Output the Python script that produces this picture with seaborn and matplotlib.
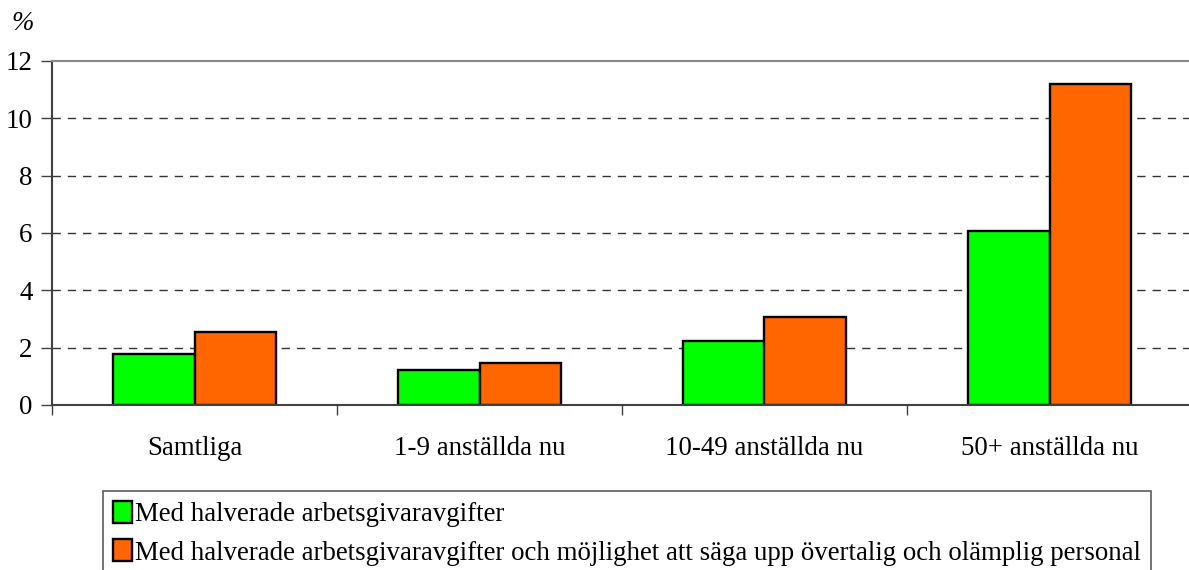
import matplotlib
matplotlib.use("Agg")
import matplotlib.pyplot as plt
import seaborn as sns
import pandas as pd

categories = ["Samtliga", "1-9 anställda nu", "10-49 anställda nu", "50+ anställda nu"]
series_names = ["Med halverade arbetsgivaravgifter",
                "Med halverade arbetsgivaravgifter och möjlighet att säga upp övertalig och olämplig personal"]
green_vals = [1.78, 1.22, 2.23, 6.07]
orange_vals = [2.55, 1.46, 3.07, 11.2]
yticks = [0, 2, 4, 6, 8, 10, 12]
colors = ["#00FF00", "#FF6600"]

df = pd.DataFrame({
    "cat": categories * 2,
    "serie": [series_names[0]] * 4 + [series_names[1]] * 4,
    "val": green_vals + orange_vals,
})

sns.set_theme(style="white")
plt.rcParams["font.family"] = ["Liberation Serif", "DejaVu Serif"]
plt.rcParams["text.color"] = "black"
plt.rcParams["xtick.color"] = "black"
plt.rcParams["ytick.color"] = "black"

FS = 19.4
W, H = 1189, 570
fig = plt.figure(figsize=(W / 100, H / 100), dpi=100)
ax = fig.add_axes([52 / W, 1 - 405 / H, (1189 - 52) / W, (405 - 61) / H])

sns.barplot(data=df, x="cat", y="val", hue="serie", palette=colors,
            width=0.575, gap=0, dodge=True, edgecolor="black", linewidth=1.7,
            saturation=1, ax=ax, legend=True, errorbar=None)

ax.set_ylim(0, 12)
ax.set_xlim(-0.5, 3.5 - 3 / 285)
ax.set_yticks(yticks)
ax.set_yticklabels([str(v) for v in yticks], fontsize=FS)
ax.set_xlabel("")
ax.set_ylabel("")
ax.tick_params(axis="x", which="major", length=0, labelsize=FS, pad=22)
ax.set_xticks(range(4))
ax.set_xticklabels(categories)
ax.set_xticks([-0.5, 0.5, 1.5, 2.5], minor=True)
ax.tick_params(axis="x", which="minor", length=7, width=1, color="#404040", direction="out", bottom=True)
ax.tick_params(axis="y", length=8, width=1, color="#404040", direction="out", left=True, pad=6)

for y in yticks[1:-1]:
    ax.axhline(y, color="#333333", linestyle=(0, (6, 5)), linewidth=1, zorder=0)

for s in ["left", "bottom"]:
    ax.spines[s].set_color("#404040")
    ax.spines[s].set_linewidth(1.5)
ax.spines["top"].set_color("#888888")
ax.spines["top"].set_linewidth(1.5)
ax.spines["right"].set_visible(False)

fig.text(11 / W, 1 - 24 / H, "%", fontsize=FS, style="italic", va="center", ha="left")

handles, labels = ax.get_legend_handles_labels()
ax.get_legend().remove()
leg = fig.legend(handles, labels, loc="upper left", bbox_to_anchor=(103 / W, 1 - 491 / H),
                 fontsize=FS, frameon=True, fancybox=False, edgecolor="#333333",
                 handlelength=0.7, handleheight=0.85, handletextpad=0.1,
                 labelspacing=0.45, borderpad=0.38, borderaxespad=0)
leg.get_frame().set_linewidth(1.2)

fig.savefig("out.png", dpi=100)
